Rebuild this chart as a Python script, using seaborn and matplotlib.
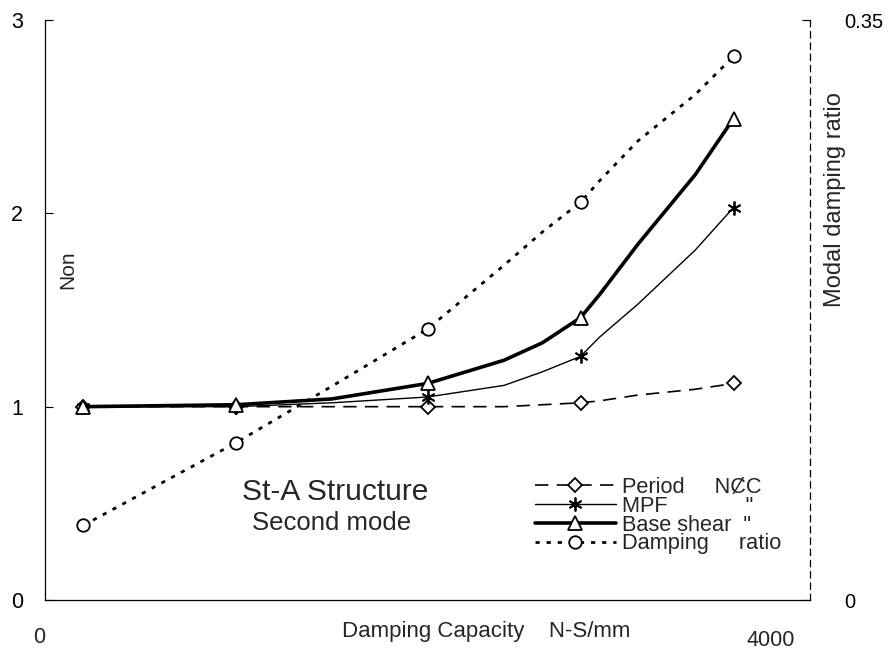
import seaborn as sns
import matplotlib.pyplot as plt
import pandas as pd
from matplotlib.lines import Line2D

# damping capacity (N-S/mm); markers sit only on the main cases
capacity = [200, 1000, 1500, 2000, 2400, 2600, 2800, 2900, 3100, 3400, 3600]
marked = [0, 1, 3, 6, 10]

period = [1.0, 1.0, 1.0, 1.0, 1.0, 1.01, 1.02, 1.03, 1.06, 1.09, 1.12]
mpf = [1.0, 1.0, 1.02, 1.05, 1.11, 1.18, 1.26, 1.36, 1.53, 1.81, 2.03]
base_shear = [1.0, 1.01, 1.04, 1.12, 1.24, 1.33, 1.46, 1.58, 1.84, 2.20, 2.49]
damping = [0.045, 0.095, 0.129, 0.1635, 0.202, 0.222, 0.240, 0.253, 0.277, 0.305, 0.328]

legend_labels = ['Period     NȻC', 'MPF             "', 'Base shear  "', 'Damping     ratio']

df = pd.DataFrame({'cap': capacity, 'period': period, 'mpf': mpf,
                   'shear': base_shear, 'damp': damping})

sns.set_style('white')
plt.rcParams['font.family'] = ['Liberation Sans', 'DejaVu Sans']

fig = plt.figure(figsize=(8.86, 6.57), dpi=100)
ax = fig.add_axes([45 / 886, 1 - 600 / 657, 765 / 886, 580 / 657])
ax2 = ax.twinx()

# line styles: (axis, column, linewidth, linestyle, marker, markersize)
styles = [
    (ax, 'period', 1.2, (0, (8, 5)), 'D', 7.5),
    (ax, 'mpf', 1.0, '-', (6, 2, 0), 10),
    (ax, 'shear', 2.6, '-', '^', 9.5),
    (ax2, 'damp', 2.0, (0, (1.5, 2.5)), 'o', 9),
]

handles = []
for target, col, lw, ls, mk, ms in styles:
    sns.lineplot(data=df, x='cap', y=col, ax=target, color='black', lw=lw,
                 linestyle=ls, marker=mk, markersize=ms, markevery=marked,
                 markerfacecolor='white', markeredgecolor='black',
                 markeredgewidth=1.3, sort=False, legend=False)
    handles.append(Line2D([], [], color='black', lw=lw, linestyle=ls, marker=mk,
                          markersize=ms, markerfacecolor='white',
                          markeredgecolor='black', markeredgewidth=1.3))

ax.set_xlim(0, 4000)
ax.set_ylim(0, 3)
ax2.set_ylim(0, 0.35)
ax.set_xticks([])
ax.set_yticks([0, 1, 2, 3])
ax2.set_yticks([0, 0.35], ['0', '0.35'])
ax.set_xlabel('')
ax.set_ylabel('')
ax2.set_ylabel('')

ax.tick_params(axis='y', direction='in', length=6, width=0.8, left=True,
               labelsize=15.5, pad=16, colors='black')
ax2.tick_params(axis='y', direction='in', length=6, width=0.8, right=True,
                labelsize=14.5, pad=25, colors='black')

for s in ['top', 'right']:
    ax.spines[s].set_visible(False)
for s in ['top', 'left', 'bottom']:
    ax2.spines[s].set_visible(False)
for s in ['left', 'bottom']:
    ax.spines[s].set_color('black')
    ax.spines[s].set_linewidth(0.9)
ax2.spines['right'].set_color('black')
ax2.spines['right'].set_linewidth(0.9)
ax2.spines['right'].set_linestyle((0, (5, 4)))

# x end labels and axis titles placed as in the original layout
ax.text(-0.007, -0.065, '0', transform=ax.transAxes, ha='center', va='center', fontsize=15.5)
ax.text(0.948, -0.069, '4000', transform=ax.transAxes, ha='center', va='center', fontsize=15.5)
ax.text(0.388, -0.055, 'Damping Capacity    N-S/mm', transform=ax.transAxes,
        ha='left', va='center', fontsize=16)
ax.text(0.030, 0.569, 'Non', transform=ax.transAxes, rotation=90,
        ha='center', va='center', fontsize=15)
ax.text(1.033, 0.69, 'Modal damping ratio', transform=ax.transAxes, rotation=90,
        ha='center', va='center', fontsize=17)
ax.text(0.379, 0.186, 'St-A Structure', transform=ax.transAxes,
        ha='center', va='center', fontsize=21.5)
ax.text(0.375, 0.133, 'Second mode', transform=ax.transAxes,
        ha='center', va='center', fontsize=18.5)

ax2.legend(handles, legend_labels, loc='upper left',
           bbox_to_anchor=(535 / 886, 1 - 477 / 657), bbox_transform=fig.transFigure,
           frameon=False, fontsize=15.7, handlelength=3.7, handletextpad=0.3,
           labelspacing=-0.1, borderpad=0, borderaxespad=0)

fig.savefig('out.png', dpi=100)
